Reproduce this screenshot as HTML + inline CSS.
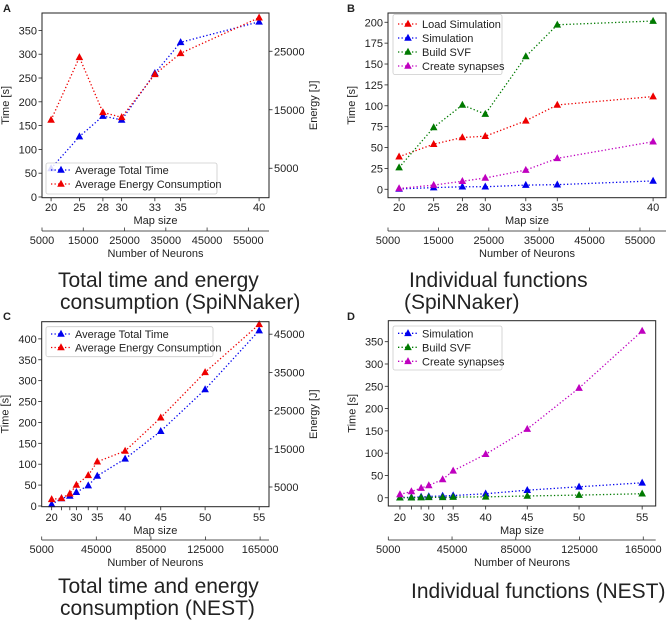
<!DOCTYPE html>
<html><head><meta charset="utf-8"><style>
html,body{margin:0;padding:0;background:#fff;}
svg text{font-family:"Liberation Sans","DejaVu Sans",sans-serif;fill:#222;}
</style></head><body>
<svg id="fig" width="669" height="624" viewBox="0 0 669 624" xmlns="http://www.w3.org/2000/svg"></svg>
<script>
// ---- data ----
const mapAB = [20, 25, 28, 30, 33, 35, 40];
const neuronsAB = [7200, 14063, 19757, 24300, 32343, 38588, 57600];
const timeA = [60, 127, 170, 162, 260, 325, 368];
const energyA = [13250, 23960, 14560, 13700, 21060, 24650, 30740];
const loadB = [39, 54, 62, 63.5, 82, 101, 111];
const simB = [0.4, 2, 3, 3, 5, 5.5, 10];
const svfB = [26, 74, 101, 90, 159, 197, 201.5];
const synB = [1, 5, 9.6, 13.5, 23, 37, 57];
const mapCDLabels = ["20", "", "", "30", "", "35", "40", "45", "50", "55"];
const neuronsCD = [12300, 19500, 25600, 30400, 39100, 45700, 66100, 92200, 124700, 164300];
const timeC = [4, 18, 24, 33, 49, 72, 113, 179, 279, 420];
const energyC = [1780, 2040, 3250, 5520, 8060, 11620, 14420, 23140, 35030, 47590];
const simD = [0.5, 1, 2, 3, 4, 5, 9, 17, 24.6, 33.5];
const svfD = [0, 0, 0.5, 1, 1, 1.5, 2, 4, 6, 9];
const synD = [7.5, 14, 21.7, 27.6, 41, 60.4, 97.6, 154, 246, 374];
const timeTicksA = [0, 50, 100, 150, 200, 250, 300, 350];
const energyTicksA = [5000, 15000, 25000];
const timeTicksB = [0, 25, 50, 75, 100, 125, 150, 175, 200];
const timeTicksC = [0, 50, 100, 150, 200, 250, 300, 350, 400];
const energyTicksC = [5000, 15000, 25000, 35000, 45000];
const timeTicksD = [0, 50, 100, 150, 200, 250, 300, 350];
const neuronTicksAB = [5000, 15000, 25000, 35000, 45000, 55000];
const neuronTicksCD = [5000, 45000, 85000, 125000, 165000];

const NS = "http://www.w3.org/2000/svg";
const svg = document.getElementById('fig');
const BLUE = "#0000ee", RED = "#ee0000", GREEN = "#007a00", MAG = "#bf00bf";
function mk(tag, attrs, parent) {
  const e = document.createElementNS(NS, tag);
  for (const k in attrs) e.setAttribute(k, attrs[k]);
  (parent || svg).appendChild(e);
  return e;
}
function txt(s, x, y, size, anchor, parent, extra) {
  const t = mk('text', Object.assign({x: x, y: y, 'font-size': size, 'text-anchor': anchor || 'middle'}, extra || {}), parent);
  t.textContent = s;
  return t;
}
function lin(d0, d1, r0, r1) { return v => r0 + (v - d0) / (d1 - d0) * (r1 - r0); }
function tri(g, x, y, color) {
  return mk('path', {d: `M${x},${y - 4.2} L${x + 3.8},${y + 2.8} L${x - 3.8},${y + 2.8} Z`, fill: color}, g);
}

function panel(c) {
  const g = mk('g', {});
  
  
  const sx = lin(c.xdom[0], c.xdom[1], c.x0, c.x1);
  const sy = lin(c.ydom[0], c.ydom[1], c.y1, c.y0);
  const se = c.edom ? lin(c.edom[0], c.edom[1], c.y1, c.y0) : null;
  const L = txt(c.letter, c.letterX, c.letterY, 11, 'start', g, {'font-weight': 'bold'});
  
  
  c.yTicks.forEach(v => {
    const y = sy(v);
    mk('line', {x1: c.x0 - 3.5, x2: c.x0, y1: y, y2: y, stroke: '#222', 'stroke-width': 0.8}, g);
    const t = txt(String(v), c.x0 - 5, y + 4, 11, 'end', g);
    
    
  });
  const yl = txt('Time [s]', 0, 0, 11, 'middle', g, {transform: `translate(${c.x0 - 33},${(c.y0 + c.y1) / 2}) rotate(-90)`});
  
  
  if (se) {
    c.eTicks.forEach(v => {
      const y = se(v);
      mk('line', {x1: c.x1, x2: c.x1 + 3.5, y1: y, y2: y, stroke: '#222', 'stroke-width': 0.8}, g);
      const t = txt(String(v), c.x1 + 5, y + 4, 11, 'start', g);
      
      
    });
    const el = txt('Energy [J]', 0, 0, 11, 'middle', g, {transform: `translate(${c.x1 + 48},${(c.y0 + c.y1) / 2}) rotate(-90)`});
    
    
  }
  c.neurons.forEach((n, i) => {
    const x = sx(n);
    mk('line', {x1: x, x2: x, y1: c.y1, y2: c.y1 + 3.5, stroke: '#222', 'stroke-width': 0.8}, g);
    const t = txt(c.mapLabels[i], x, c.mapLblY, 11, 'middle', g);
    
    
  });
  const ml = txt('Map size', (c.x0 + c.x1) / 2, c.mapLblY + 13, 11, 'middle', g);
  
  
  mk('line', {x1: c.x0, x2: c.x1, y1: c.nAxisY, y2: c.nAxisY, stroke: '#555', 'stroke-width': 1}, g);
  c.nTicks.forEach(v => {
    const x = sx(v);
    mk('line', {x1: x, x2: x, y1: c.nAxisY - 3.5, y2: c.nAxisY, stroke: '#333', 'stroke-width': 0.8}, g);
    const t = txt(String(v), x, c.nAxisY + 13, 11, 'middle', g);
    
    
  });
  const nl = txt('Number of Neurons', (c.x0 + c.x1) / 2, c.nAxisY + 26, 11, 'middle', g);
  
  
  c.series.forEach(s => {
    const sg = mk('g', {}, g);
    
    
    const scale = s.energy ? se : sy;
    const pts = s.vals.map((v, i) => [sx(c.neurons[i]), scale(v)]);
    mk('polyline', {points: pts.map(p => p.join(',')).join(' '), fill: 'none', stroke: s.color, 'stroke-width': 1.3, 'stroke-dasharray': '1.3,2.2'}, sg);
    pts.forEach(p => {
      const m = tri(sg, p[0], p[1], s.color);
      
      
    });
  });
  mk('rect', {x: c.x0, y: c.y0, width: c.x1 - c.x0, height: c.y1 - c.y0, fill: 'none', stroke: '#222', 'stroke-width': 1}, g);
  const lg = mk('g', {}, g);
  
  
  const lb = c.legend;
  mk('rect', {x: lb.x, y: lb.y, width: lb.w, height: lb.h, fill: 'rgba(255,255,255,0.85)', stroke: '#ccc', 'stroke-width': 0.8, rx: 2}, lg);
  c.series.forEach((s, i) => {
    const y = lb.y + lb.first + i * lb.step;
    const eg = mk('g', {}, lg);
    
    
    mk('line', {x1: lb.x + 5, x2: lb.x + 25, y1: y, y2: y, stroke: s.color, 'stroke-width': 1.3, 'stroke-dasharray': '1.3,2.2'}, eg);
    tri(eg, lb.x + 15, y, s.color);
    txt(s.label, lb.x + 29, y + 4, 11, 'start', eg);
  });
  c.title.forEach(t => {
    const e = txt(t[0], t[1], t[2], 21, 'start', g, {fill: '#111'});
    
    
  });
}

panel({name: 'panel-a', letter: 'A', letterX: 3, letterY: 12,
  x0: 42, x1: 269, y0: 13, y1: 197.7, xdom: [5000, 60000], ydom: [-1.5, 386.6], edom: [-35, 31540],
  yTicks: timeTicksA, eTicks: energyTicksA, neurons: neuronsAB, mapLabels: mapAB.map(String),
  mapLblY: 211, nAxisY: 231, nTicks: neuronTicksAB,
  series: [{key: 'average-total-time', label: 'Average Total Time', vals: timeA, color: BLUE},
           {key: 'average-energy', label: 'Average Energy Consumption', vals: energyA, color: RED, energy: true}],
  legend: {x: 46, y: 163, w: 171, h: 31, first: 7, step: 14},
  title: [['Total time and energy', 58, 287], ['consumption (SpiNNaker)', 60, 309]]});

panel({name: 'panel-b', letter: 'B', letterX: 347, letterY: 12,
  x0: 388, x1: 666, y0: 13, y1: 197.7, xdom: [5000, 60160], ydom: [-10.1, 211.1],
  yTicks: timeTicksB, neurons: neuronsAB, mapLabels: mapAB.map(String),
  mapLblY: 211, nAxisY: 231, nTicks: neuronTicksAB,
  series: [{key: 'load-simulation', label: 'Load Simulation', vals: loadB, color: RED},
           {key: 'simulation', label: 'Simulation', vals: simB, color: BLUE},
           {key: 'build-svf', label: 'Build SVF', vals: svfB, color: GREEN},
           {key: 'create-synapses', label: 'Create synapses', vals: synB, color: MAG}],
  legend: {x: 393, y: 14.5, w: 109, h: 60, first: 9.5, step: 14},
  title: [['Individual functions', 409, 287], ['(SpiNNaker)', 404, 309]]});

panel({name: 'panel-c', letter: 'C', letterX: 3, letterY: 320,
  x0: 41.7, x1: 269, y0: 321.7, y1: 506.7, xdom: [5000, 171500], ydom: [-1.7, 441.1], edom: [-160, 48270],
  yTicks: timeTicksC, eTicks: energyTicksC, neurons: neuronsCD, mapLabels: mapCDLabels,
  mapLblY: 521, nAxisY: 540, nTicks: neuronTicksCD,
  series: [{key: 'average-total-time', label: 'Average Total Time', vals: timeC, color: BLUE},
           {key: 'average-energy', label: 'Average Energy Consumption', vals: energyC, color: RED, energy: true}],
  legend: {x: 46, y: 326.7, w: 167, h: 30, first: 7.3, step: 13.5},
  title: [['Total time and energy', 58, 593], ['consumption (NEST)', 60, 615]]});

panel({name: 'panel-d', letter: 'D', letterX: 347, letterY: 320,
  x0: 388.3, x1: 655.7, y0: 320.7, y1: 506, xdom: [5000, 172800], ydom: [-18.5, 397.1],
  yTicks: timeTicksD, neurons: neuronsCD, mapLabels: mapCDLabels,
  mapLblY: 521, nAxisY: 540, nTicks: neuronTicksCD,
  series: [{key: 'simulation', label: 'Simulation', vals: simD, color: BLUE},
           {key: 'build-svf', label: 'Build SVF', vals: svfD, color: GREEN},
           {key: 'create-synapses', label: 'Create synapses', vals: synD, color: MAG}],
  legend: {x: 393, y: 326, w: 109, h: 44, first: 7.3, step: 14},
  title: [['Individual functions (NEST)', 411, 598]]});
</script>
</body></html>
